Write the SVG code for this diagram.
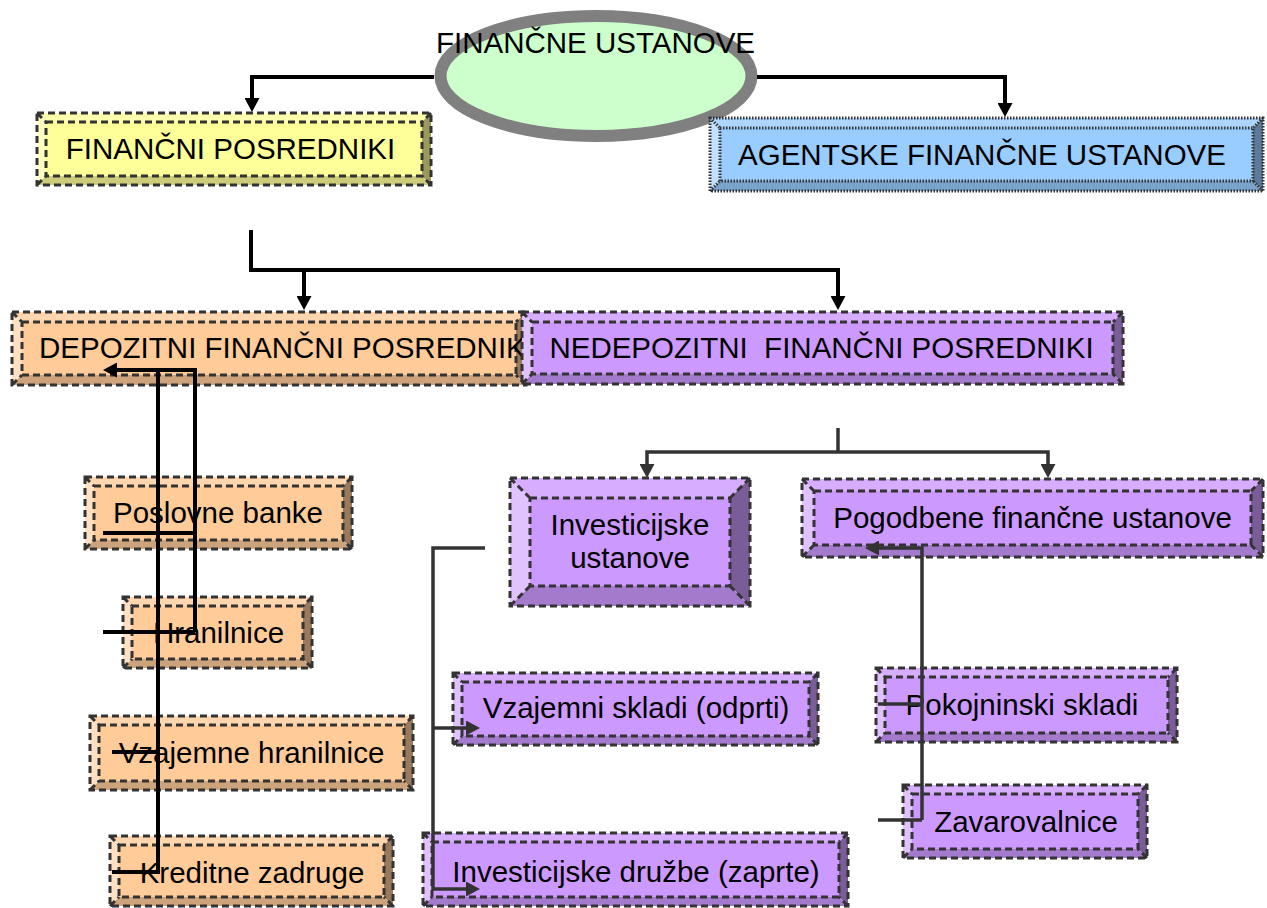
<svg xmlns="http://www.w3.org/2000/svg" width="1267" height="908" viewBox="0 0 1267 908">
<style>
text{font-family:"Liberation Sans",Arial,sans-serif;font-size:29.5px;fill:#000;text-anchor:middle}
.y .b{fill:#FFFF99}.y .l{fill:#FFFFC2}.y .t{fill:#FFFFAD}.y .r{fill:#99995C}.y .m{fill:#CCCC7A}
.u .b{fill:#99CCFF}.u .l{fill:#C2E0FF}.u .t{fill:#ADD6FF}.u .r{fill:#5C7A99}.u .m{fill:#7AA3CC}
.o .b{fill:#FFCC99}.o .l{fill:#FFE0C2}.o .t{fill:#FFD6AD}.o .r{fill:#997A5C}.o .m{fill:#CCA37A}
.p .b{fill:#CC99FF}.p .l{fill:#E0C2FF}.p .t{fill:#D6ADFF}.p .r{fill:#7A5C99}.p .m{fill:#A37ACC}
.d{fill:none;stroke:#333;stroke-width:3;stroke-dasharray:7 4}
.dot{fill:none;stroke:#333;stroke-width:3;stroke-dasharray:1.5 1.5}
.k{fill:none;stroke:#000;stroke-width:4}
.g{fill:none;stroke:#333;stroke-width:3.5}
</style>
<defs>
<marker id="ak" markerUnits="userSpaceOnUse" markerWidth="14" markerHeight="15" refX="6" refY="7.5" orient="auto"><path d="M0,0L14,7.5L0,15Z" fill="#000"/></marker>
<marker id="ag" markerUnits="userSpaceOnUse" markerWidth="14" markerHeight="15" refX="6" refY="7.5" orient="auto"><path d="M0,0L14,7.5L0,15Z" fill="#333"/></marker>
</defs>

<g id="financne-ustanove">
<ellipse cx="596" cy="76" rx="155.5" ry="60" fill="#CCFFCC" stroke="#808080" stroke-width="12"/>
<text x="595.5" y="53">FINANČNE USTANOVE</text>
</g>

<g id="financni-posredniki" class="y">
<polygon class="t" points="37,113 431,113 422,122 46,122"/>
<polygon class="l" points="37,113 46,122 46,176 37,185"/>
<polygon class="r" points="431,113 431,185 422,176 422,122"/>
<polygon class="m" points="37,185 46,176 422,176 431,185"/>
<rect class="b" x="46" y="122" width="376" height="54"/>
<path class="d" d="M37,113H431V185H37Z M46,122H422V176H46Z M37,113L46,122M431,113L422,122M431,185L422,176M37,185L46,176"/>
<text x="230.5" y="159">FINANČNI POSREDNIKI</text>
</g>

<g id="agentske" class="u">
<polygon class="t" points="710,118 1263,118 1253,128 720,128"/>
<polygon class="l" points="710,118 720,128 720,181 710,191"/>
<polygon class="r" points="1263,118 1263,191 1253,181 1253,128"/>
<polygon class="m" points="710,191 720,181 1253,181 1263,191"/>
<rect class="b" x="720" y="128" width="533" height="53"/>
<path class="dot" d="M710,118H1263V191H710Z M720,128H1253V181H720Z M710,118L720,128M1263,118L1253,128M1263,191L1253,181M710,191L720,181"/>
<text x="982" y="165">AGENTSKE FINANČNE USTANOVE</text>
</g>

<g id="depozitni" class="o">
<polygon class="t" points="12,312 526,312 516,322 22,322"/>
<polygon class="l" points="12,312 22,322 22,375 12,385"/>
<polygon class="r" points="526,312 526,385 516,375 516,322"/>
<polygon class="m" points="12,385 22,375 516,375 526,385"/>
<rect class="b" x="22" y="322" width="494" height="53"/>
<path class="d" d="M12,312H526V385H12Z M22,322H516V375H22Z M12,312L22,322M526,312L516,322M526,385L516,375M12,385L22,375"/>
<text x="39" y="358" style="text-anchor:start">DEPOZITNI FINANČNI POSREDNIK</text>
</g>

<g id="nedepozitni" class="p">
<polygon class="t" points="522,312 1123,312 1113,322 532,322"/>
<polygon class="l" points="522,312 532,322 532,374 522,384"/>
<polygon class="r" points="1123,312 1123,384 1113,374 1113,322"/>
<polygon class="m" points="522,384 532,374 1113,374 1123,384"/>
<rect class="b" x="532" y="322" width="581" height="52"/>
<path class="d" d="M522,312H1123V384H522Z M532,322H1113V374H532Z M522,312L532,322M1123,312L1113,322M1123,384L1113,374M522,384L532,374"/>
<text x="821.5" y="358" xml:space="preserve">NEDEPOZITNI  FINANČNI POSREDNIKI</text>
</g>

<g id="poslovne-banke" class="o">
<polygon class="t" points="85,477 352,477 343,486 94,486"/>
<polygon class="l" points="85,477 94,486 94,540 85,549"/>
<polygon class="r" points="352,477 352,549 343,540 343,486"/>
<polygon class="m" points="85,549 94,540 343,540 352,549"/>
<rect class="b" x="94" y="486" width="249" height="54"/>
<path class="d" d="M85,477H352V549H85Z M94,486H343V540H94Z M85,477L94,486M352,477L343,486M352,549L343,540M85,549L94,540"/>
<text x="218" y="523">Poslovne banke</text>
</g>

<g id="hranilnice" class="o">
<polygon class="t" points="123,597 312,597 303,606 132,606"/>
<polygon class="l" points="123,597 132,606 132,659 123,668"/>
<polygon class="r" points="312,597 312,668 303,659 303,606"/>
<polygon class="m" points="123,668 132,659 303,659 312,668"/>
<rect class="b" x="132" y="606" width="171" height="53"/>
<path class="d" d="M123,597H312V668H123Z M132,606H303V659H132Z M123,597L132,606M312,597L303,606M312,668L303,659M123,668L132,659"/>
<text x="218.5" y="643">Hranilnice</text>
</g>

<g id="vzajemne-hranilnice" class="o">
<polygon class="t" points="90,716 413,716 404,725 99,725"/>
<polygon class="l" points="90,716 99,725 99,781 90,790"/>
<polygon class="r" points="413,716 413,790 404,781 404,725"/>
<polygon class="m" points="90,790 99,781 404,781 413,790"/>
<rect class="b" x="99" y="725" width="305" height="56"/>
<path class="d" d="M90,716H413V790H90Z M99,725H404V781H99Z M90,716L99,725M413,716L404,725M413,790L404,781M90,790L99,781"/>
<text x="251.5" y="763">Vzajemne hranilnice</text>
</g>

<g id="kreditne-zadruge" class="o">
<polygon class="t" points="110,836 393,836 384,845 119,845"/>
<polygon class="l" points="110,836 119,845 119,897 110,906"/>
<polygon class="r" points="393,836 393,906 384,897 384,845"/>
<polygon class="m" points="110,906 119,897 384,897 393,906"/>
<rect class="b" x="119" y="845" width="265" height="52"/>
<path class="d" d="M110,836H393V906H110Z M119,845H384V897H119Z M110,836L119,845M393,836L384,845M393,906L384,897M110,906L119,897"/>
<text x="252" y="883">Kreditne zadruge</text>
</g>

<g id="investicijske-ustanove" class="p">
<polygon class="t" points="510,478 750,478 730,498 530,498"/>
<polygon class="l" points="510,478 530,498 530,586 510,606"/>
<polygon class="r" points="750,478 750,606 730,586 730,498"/>
<polygon class="m" points="510,606 530,586 730,586 750,606"/>
<rect class="b" x="530" y="498" width="200" height="88"/>
<path class="d" d="M510,478H750V606H510Z M530,498H730V586H530Z M510,478L530,498M750,478L730,498M750,606L730,586M510,606L530,586"/>
<text x="630" y="535">Investicijske</text>
<text x="630" y="568">ustanove</text>
</g>

<g id="pogodbene" class="p">
<polygon class="t" points="802,479 1263,479 1251,491 814,491"/>
<polygon class="l" points="802,479 814,491 814,545 802,557"/>
<polygon class="r" points="1263,479 1263,557 1251,545 1251,491"/>
<polygon class="m" points="802,557 814,545 1251,545 1263,557"/>
<rect class="b" x="814" y="491" width="437" height="54"/>
<path class="d" d="M802,479H1263V557H802Z M814,491H1251V545H814Z M802,479L814,491M1263,479L1251,491M1263,557L1251,545M802,557L814,545"/>
<text x="1032.5" y="528">Pogodbene finančne ustanove</text>
</g>

<g id="vzajemni-skladi" class="p">
<polygon class="t" points="453,673 818,673 809,682 462,682"/>
<polygon class="l" points="453,673 462,682 462,736 453,745"/>
<polygon class="r" points="818,673 818,745 809,736 809,682"/>
<polygon class="m" points="453,745 462,736 809,736 818,745"/>
<rect class="b" x="462" y="682" width="347" height="54"/>
<path class="d" d="M453,673H818V745H453Z M462,682H809V736H462Z M453,673L462,682M818,673L809,682M818,745L809,736M453,745L462,736"/>
<text x="636" y="718">Vzajemni skladi (odprti)</text>
</g>

<g id="investicijske-druzbe" class="p">
<polygon class="t" points="423,833 848,833 839,842 432,842"/>
<polygon class="l" points="423,833 432,842 432,897 423,906"/>
<polygon class="r" points="848,833 848,906 839,897 839,842"/>
<polygon class="m" points="423,906 432,897 839,897 848,906"/>
<rect class="b" x="432" y="842" width="407" height="55"/>
<path class="d" d="M423,833H848V906H423Z M432,842H839V897H432Z M423,833L432,842M848,833L839,842M848,906L839,897M423,906L432,897"/>
<text x="636" y="882">Investicijske družbe (zaprte)</text>
</g>

<g id="pokojninski-skladi" class="p">
<polygon class="t" points="876,668 1177,668 1168,677 885,677"/>
<polygon class="l" points="876,668 885,677 885,733 876,742"/>
<polygon class="r" points="1177,668 1177,742 1168,733 1168,677"/>
<polygon class="m" points="876,742 885,733 1168,733 1177,742"/>
<rect class="b" x="885" y="677" width="283" height="56"/>
<path class="d" d="M876,668H1177V742H876Z M885,677H1168V733H885Z M876,668L885,677M1177,668L1168,677M1177,742L1168,733M876,742L885,733"/>
<text x="1022" y="715">Pokojninski skladi</text>
</g>

<g id="zavarovalnice" class="p">
<polygon class="t" points="903,785 1147,785 1138,794 912,794"/>
<polygon class="l" points="903,785 912,794 912,849 903,858"/>
<polygon class="r" points="1147,785 1147,858 1138,849 1138,794"/>
<polygon class="m" points="903,858 912,849 1138,849 1147,858"/>
<rect class="b" x="912" y="794" width="226" height="55"/>
<path class="d" d="M903,785H1147V858H903Z M912,794H1138V849H912Z M903,785L912,794M1147,785L1138,794M1147,858L1138,849M903,858L912,849"/>
<text x="1026" y="832">Zavarovalnice</text>
</g>

<g id="connectors">
<path class="k" d="M434,77H252V104" marker-end="url(#ak)"/>
<path class="k" d="M757,77H1005V109" marker-end="url(#ak)"/>
<path class="k" d="M251,230V270H838V302" marker-end="url(#ak)"/>
<path class="k" d="M304,270V302" marker-end="url(#ak)"/>
<path class="g" d="M838,428V452"/>
<path class="g" d="M838,452H647V470" marker-end="url(#ag)"/>
<path class="g" d="M838,452H1048V470" marker-end="url(#ag)"/>
<path class="g" d="M485,548H433V889H472" marker-end="url(#ag)"/>
<path class="g" d="M433,728H472" marker-end="url(#ag)"/>
<path class="g" d="M922,820V548H873" marker-end="url(#ag)"/>
<path class="g" d="M878,704H922"/>
<path class="g" d="M878,820H922"/>
<path class="k" d="M195,632V370H111" marker-end="url(#ak)"/>
<path class="k" d="M103,632H195"/>
<path class="k" d="M103,533H195"/>
<path class="k" d="M158,370V872H112"/>
<path class="k" d="M112,752H158"/>
</g>
</svg>
